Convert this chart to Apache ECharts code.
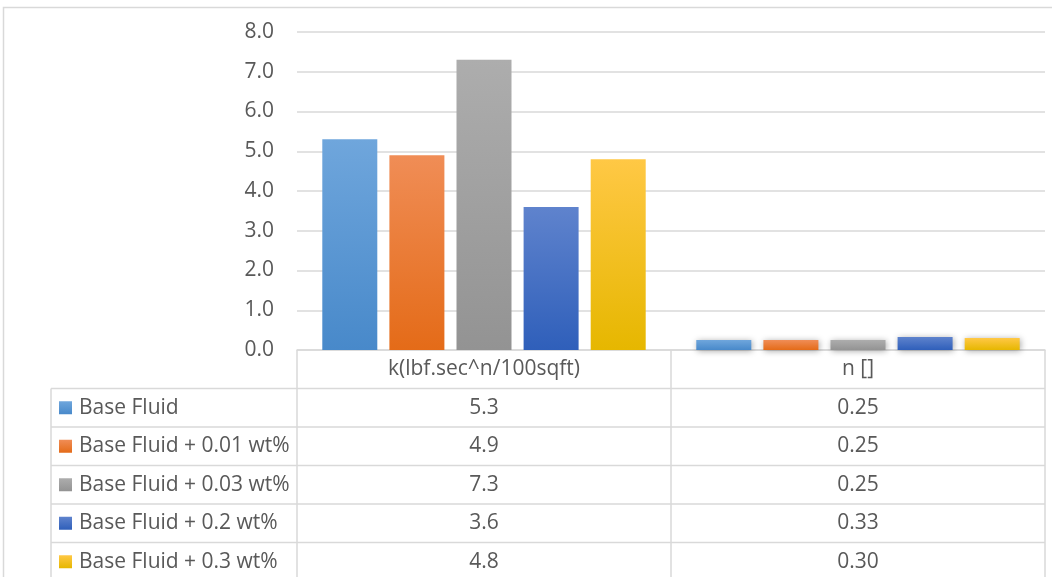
<!DOCTYPE html>
<html>
<head>
<meta charset="utf-8">
<script src="https://cdn.jsdelivr.net/npm/echarts@6/dist/echarts.min.js"></script>
<style>
  html, body { margin: 0; padding: 0; background: #ffffff; }
  #chart { width: 1052px; height: 577px; }
</style>
</head>
<body>
<div id="chart"></div>
<script>
// Rheology parameters per fluid
const categories = ['k(lbf.sec^n/100sqft)', 'n []'];
const seriesNames = [
  'Base Fluid',
  'Base Fluid + 0.01 wt%',
  'Base Fluid + 0.03 wt%',
  'Base Fluid + 0.2 wt%',
  'Base Fluid + 0.3 wt%'
];
const baseFluid = [5.3, 0.25];
const fluid001 = [4.9, 0.25];
const fluid003 = [7.3, 0.25];
const fluid02 = [3.6, 0.33];
const fluid03 = [4.8, 0.30];
const seriesValues = [baseFluid, fluid001, fluid003, fluid02, fluid03];
// decimals shown in the data table for each category column
const valueDecimals = [1, 2];
// value axis range
const yMin = 0, yMax = 8, yStep = 1;

// Office-style palette, light top to darker bottom
const topColors = ['#6FA6DC', '#F08D56', '#ADADAD', '#5F83CD', '#FFC845'];
const bottomColors = ['#4889CA', '#E46B18', '#939393', '#2F5FBA', '#E6B700'];

const FONT = '"Open Sans", "Liberation Sans", sans-serif';
const TEXT = '#595959';
const LINE = '#D9D9D9';
const FS = 21;

function grad(i) {
  return new echarts.graphic.LinearGradient(0, 0, 0, 1, [
    { offset: 0, color: topColors[i] },
    { offset: 1, color: bottomColors[i] }
  ]);
}

const chart = echarts.init(document.getElementById('chart'), null, { renderer: 'canvas' });

chart.setOption({
  animation: false,
  grid: { left: 297, right: 7, top: 32, bottom: 227, containLabel: false },
  xAxis: {
    type: 'category',
    data: categories,
    axisLine: { show: true, lineStyle: { color: LINE, width: 1.5 } },
    axisTick: { show: false },
    axisLabel: { show: false },
    splitLine: { show: false }
  },
  yAxis: {
    type: 'value',
    min: yMin,
    max: yMax,
    interval: yStep,
    axisLine: { show: false },
    axisTick: { show: false },
    axisLabel: {
      formatter: v => v.toFixed(1),
      color: TEXT,
      fontSize: FS,
      fontFamily: FONT,
      margin: 23
    },
    splitLine: { lineStyle: { color: LINE, width: 1.5 } }
  },
  series: seriesNames.map((name, i) => ({
    type: 'bar',
    name: name,
    data: seriesValues[i],
    barWidth: 55,
    barGap: '22%',
    itemStyle: {
      color: grad(i),
      shadowBlur: 6,
      shadowColor: 'rgba(0,0,0,0.35)',
      shadowOffsetX: 1,
      shadowOffsetY: 1
    }
  }))
});

// Data table under the plot, aligned to the category bands
function drawTable() {
  const c0 = chart.convertToPixel({ xAxisIndex: 0 }, 0);
  const c1 = chart.convertToPixel({ xAxisIndex: 0 }, 1);
  const band = c1 - c0;
  const centers = categories.map((_, k) => chart.convertToPixel({ xAxisIndex: 0 }, k));
  const edges = [c0 - band / 2].concat(centers.map(c => c + band / 2));
  const base = chart.convertToPixel({ yAxisIndex: 0 }, 0);
  const rowH = 38.5;
  const tableLeft = 51;
  const right = edges[edges.length - 1];
  const bottom = base + rowH * (seriesNames.length + 1);
  const ls = { stroke: LINE, lineWidth: 1.5 };
  const font = FS + 'px ' + FONT;
  const els = [];

  // outer chart frame
  els.push({ type: 'rect', shape: { x: 3.5, y: 7.5, width: 1100, height: 700 },
    style: { fill: null, stroke: LINE, lineWidth: 1.5 }, silent: true, z: 0 });

  // column separators
  edges.forEach(x => {
    els.push({ type: 'line', shape: { x1: x, y1: base, x2: x, y2: bottom }, style: ls, z: 10 });
  });
  // left border for legend rows
  els.push({ type: 'line', shape: { x1: tableLeft, y1: base + rowH, x2: tableLeft, y2: bottom }, style: ls, z: 10 });
  // row separators
  for (let r = 1; r <= seriesNames.length; r++) {
    const y = base + rowH * r;
    els.push({ type: 'line', shape: { x1: tableLeft, y1: y, x2: right, y2: y }, style: ls, z: 10 });
  }
  // header text
  categories.forEach((cat, k) => {
    els.push({ type: 'text', x: centers[k], y: base + rowH / 2,
      style: { text: cat, fill: TEXT, font: font, align: 'center', verticalAlign: 'middle' }, z: 11 });
  });
  // rows
  seriesNames.forEach((name, i) => {
    const yc = base + rowH * (i + 1) + rowH / 2;
    els.push({ type: 'rect', shape: { x: 59, y: yc - 6.5, width: 13, height: 13 },
      style: { fill: grad(i) }, z: 11 });
    els.push({ type: 'text', x: 79, y: yc,
      style: { text: name, fill: TEXT, font: font, align: 'left', verticalAlign: 'middle' }, z: 11 });
    seriesValues[i].forEach((v, k) => {
      els.push({ type: 'text', x: centers[k], y: yc,
        style: { text: v.toFixed(valueDecimals[k]), fill: TEXT, font: font, align: 'center', verticalAlign: 'middle' }, z: 11 });
    });
  });

  chart.setOption({ graphic: { elements: els } });
}
drawTable();
</script>
</body>
</html>
